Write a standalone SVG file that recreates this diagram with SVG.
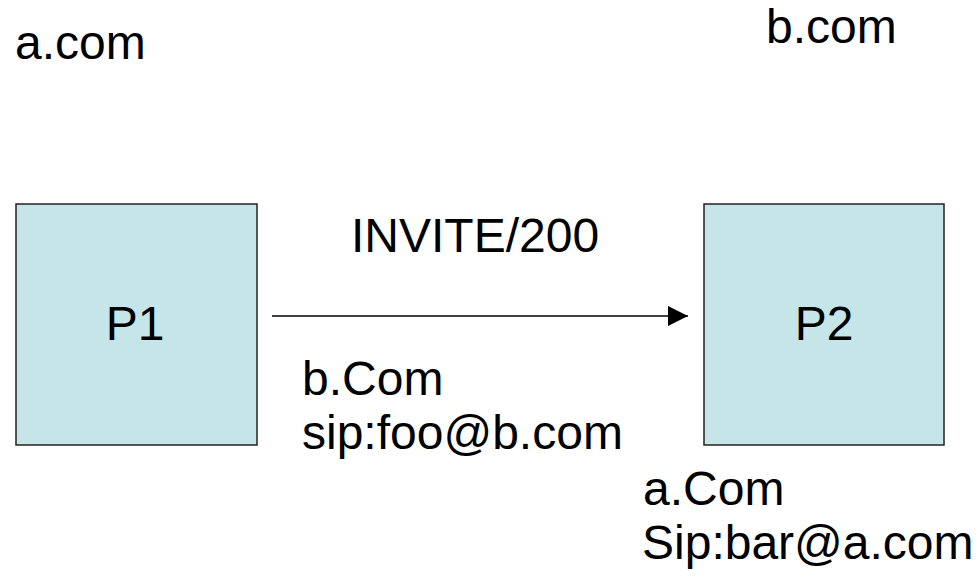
<svg xmlns="http://www.w3.org/2000/svg" width="976" height="580" viewBox="0 0 976 580">
<style>
text{font-family:"Liberation Sans",Arial,sans-serif;font-size:48px;fill:#000}
.box{fill:#C6E5E8;stroke:#222;stroke-width:1.5}
.conn{stroke:#000;stroke-width:1.5;fill:none}
</style>
<defs>
<marker id="arrow" markerUnits="userSpaceOnUse" markerWidth="22" markerHeight="22" refX="20" refY="10" orient="auto">
<path d="M0,0 L20,10 L0,20 Z" fill="#000"/>
</marker>
</defs>
<rect width="976" height="580" fill="#fff"/>
<text x="15" y="59">a.com</text>
<text x="766" y="43">b.com</text>
<g id="p1">
<rect class="box" x="16" y="204" width="241" height="241"/>
<text x="135" y="340" text-anchor="middle">P1</text>
</g>
<g id="p2">
<rect class="box" x="704" y="204" width="240" height="241"/>
<text x="824" y="340" text-anchor="middle">P2</text>
</g>
<g id="connectors">
<line class="conn" x1="272" y1="316" x2="688" y2="316" marker-end="url(#arrow)"/>
<text x="351" y="252">INVITE/200</text>
</g>
<text x="302" y="395">b.Com</text>
<text x="302" y="449">sip:foo@b.com</text>
<text x="643" y="505">a.Com</text>
<text x="642" y="559">Sip:bar@a.com</text>
</svg>
